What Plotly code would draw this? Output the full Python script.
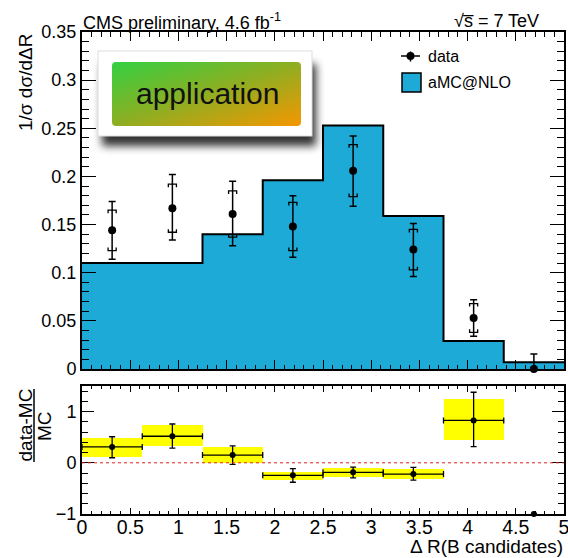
import base64
import plotly.graph_objects as go

# ---- data ---------------------------------------------------------------
bin_edges = [0.0, 0.625, 1.25, 1.875, 2.5, 3.125, 3.75, 4.375, 5.0]
mc_values = [0.110, 0.110, 0.140, 0.196, 0.253, 0.159, 0.029, 0.007]   # aMC@NLO
data_values = [0.144, 0.167, 0.161, 0.148, 0.206, 0.124, 0.053, 0.0]
data_tot_up = [0.030, 0.035, 0.034, 0.032, 0.036, 0.027, 0.019, 0.0156]
data_tot_dn = [0.030, 0.033, 0.033, 0.032, 0.037, 0.028, 0.019, 0.0]
data_stat_up = [0.021, 0.025, 0.024, 0.025, 0.027, 0.021, 0.015, None]
data_stat_dn = [0.021, 0.025, 0.024, 0.025, 0.027, 0.021, 0.015, None]

# (data-MC)/MC panel: uncertainty band and error bars
band_lo = [0.11, 0.32, 0.0, -0.345, -0.28, -0.31, 0.45, None]
band_hi = [0.48, 0.74, 0.306, -0.17, -0.10, -0.117, 1.25, None]
ratio_err_up = [0.20, 0.24, 0.18, 0.13, 0.10, 0.13, 0.55, None]
ratio_err_dn = [0.21, 0.23, 0.18, 0.135, 0.11, 0.12, 0.51, None]

x_ticks = [0, 0.5, 1, 1.5, 2, 2.5, 3, 3.5, 4, 4.5, 5]
x_tick_text = ["0", "0.5", "1", "1.5", "2", "2.5", "3", "3.5", "4", "4.5", "5"]

# ---- derived ------------------------------------------------------------
centers = [(a + b) / 2 for a, b in zip(bin_edges[:-1], bin_edges[1:])]
half_w = [(b - a) / 2 for a, b in zip(bin_edges[:-1], bin_edges[1:])]
ratio = [d / m - 1 for d, m in zip(data_values, mc_values)]

BLUE = "#1eaad7"
FONT = "Liberation Sans, Arial, Helvetica, sans-serif"

# frame geometry in pixels (used for paper-coordinate helpers)
W, H = 568, 558
ML, MR, MT, MB = 82, 4, 32, 44
PW, PH = W - ML - MR, H - MT - MB


def px(xp):
    return (xp - ML) / PW


def py(yp):
    return (H - MB - yp) / PH


fig = go.Figure()

# histogram drawn as a filled step outline
fig.add_trace(go.Scatter(
    x=bin_edges, y=mc_values + [mc_values[-1]],
    mode="lines", line=dict(shape="hv", color="black", width=2),
    fill="tozeroy", fillcolor=BLUE, hoverinfo="skip",
    xaxis="x", yaxis="y", showlegend=False))

# bracket-style caps marking the statistical part of the data errors
bw, bt = 0.042, 0.0032
bx, by = [], []
for c, v, su, sd in zip(centers, data_values, data_stat_up, data_stat_dn):
    if su is None:
        continue
    top, bot = v + su, v - sd
    bx += [c - bw, c - bw, c + bw, c + bw, None, c - bw, c - bw, c + bw, c + bw, None]
    by += [top - bt, top, top, top - bt, None, bot + bt, bot, bot, bot + bt, None]
fig.add_trace(go.Scatter(
    x=bx, y=by, mode="lines", line=dict(color="black", width=1.3),
    xaxis="x", yaxis="y", showlegend=False, hoverinfo="skip"))

# data points with total uncertainty
fig.add_trace(go.Scatter(
    x=centers, y=data_values, mode="markers",
    marker=dict(color="black", size=8),
    error_y=dict(type="data", symmetric=False, array=data_tot_up,
                 arrayminus=data_tot_dn, color="black", thickness=1.5, width=3.5),
    cliponaxis=False, xaxis="x", yaxis="y", showlegend=False))

# ratio panel: uncertainty band
fig.add_trace(go.Bar(
    x=centers,
    base=band_lo,
    y=[None if (h is None or l is None) else h - l for h, l in zip(band_hi, band_lo)],
    width=[2 * w for w in half_w],
    marker=dict(color="#ffff00", line=dict(width=0)),
    xaxis="x2", yaxis="y2", showlegend=False, hoverinfo="skip"))

# ratio points
fig.add_trace(go.Scatter(
    x=centers, y=ratio, mode="markers",
    marker=dict(color="black", size=6),
    error_x=dict(type="data", array=[w if e is not None else None for w, e in zip(half_w, ratio_err_up)],
                 color="black", thickness=1.3, width=3),
    error_y=dict(type="data", symmetric=False, array=ratio_err_up,
                 arrayminus=ratio_err_dn, color="black", thickness=1.3, width=3),
    cliponaxis=False, xaxis="x2", yaxis="y2", showlegend=False))

axis_common = dict(
    showline=True, linecolor="black", linewidth=2, mirror="allticks",
    ticks="inside", tickcolor="black", tickwidth=1.3, showgrid=False,
    zeroline=False, automargin=False, ticklabeloverflow="allow",
    tickfont=dict(family=FONT, size=18, color="black"),
)

fig.update_layout(
    width=W, height=H,
    margin=dict(l=ML, r=MR, t=MT, b=MB, autoexpand=False),
    paper_bgcolor="white", plot_bgcolor="white",
    font=dict(family=FONT, color="black"),
    bargap=0,
    xaxis=dict(axis_common, domain=[0, 1], range=[0, 5], anchor="y",
               tickvals=x_ticks, showticklabels=False, ticklen=9,
               minor=dict(dtick=0.1, ticklen=4.5, ticks="inside",
                          tickcolor="black", tickwidth=1)),
    yaxis=dict(axis_common, domain=[py(369), 1], range=[0, 0.35], anchor="x",
               dtick=0.05, tick0=0, ticklen=14, ticklabelstandoff=0,
               minor=dict(dtick=0.01, ticklen=7, ticks="inside",
                          tickcolor="black", tickwidth=1)),
    xaxis2=dict(axis_common, domain=[0, 1], range=[0, 5], anchor="y2",
                tickvals=x_ticks, ticktext=x_tick_text, ticklen=6,
                ticklabelstandoff=-5,
                tickfont=dict(family=FONT, size=19.5, color="black"),
                minor=dict(dtick=0.1, ticklen=3, ticks="inside",
                           tickcolor="black", tickwidth=1)),
    yaxis2=dict(axis_common, domain=[0, py(386)], range=[-1, 1.5], anchor="x2",
                dtick=1, tick0=0, ticklen=12, ticklabelstandoff=0,
                minor=dict(dtick=0.2, tick0=0, ticklen=6, ticks="inside",
                           tickcolor="black", tickwidth=1)),
)

# zero line of the ratio panel
fig.add_shape(type="line", xref="x2 domain", yref="y2", x0=0, x1=1, y0=0, y1=0,
              line=dict(color="#e02020", width=1, dash="3px,3px"), layer="above")

# legend glyphs
fig.add_shape(type="line", xref="paper", yref="paper", x0=px(401), x1=px(420),
              y0=py(56), y1=py(56), line=dict(color="black", width=1.5))
fig.add_shape(type="line", xref="paper", yref="paper", x0=px(410.5), x1=px(410.5),
              y0=py(51.5), y1=py(61.5), line=dict(color="black", width=1.5))
fig.add_shape(type="circle", xref="paper", yref="paper", x0=px(406.5), x1=px(414.5),
              y0=py(60), y1=py(52), fillcolor="black", line=dict(color="black", width=0))
fig.add_shape(type="rect", xref="paper", yref="paper", x0=px(402), x1=px(421),
              y0=py(92), y1=py(73), fillcolor=BLUE, line=dict(color="black", width=1.5))

# floating "application" badge with drop shadow and gradient
badge_svg = """<svg xmlns="http://www.w3.org/2000/svg" width="240" height="115" viewBox="0 0 240 115">
<defs>
<linearGradient id="g" x1="0" y1="0" x2="1" y2="1">
<stop offset="0" stop-color="#33d042"/>
<stop offset="0.5" stop-color="#8fae22"/>
<stop offset="1" stop-color="#f59600"/>
</linearGradient>
<filter id="b" x="-20%" y="-30%" width="140%" height="170%"><feGaussianBlur stdDeviation="4"/></filter>
</defs>
<rect x="10" y="20" width="214" height="82" fill="#000" opacity="0.8" filter="url(#b)"/>
<rect x="6" y="7" width="214" height="85" fill="#ffffff" stroke="#dddddd" stroke-width="1"/>
<rect x="20" y="18" width="189" height="64" rx="4" fill="url(#g)"/>
</svg>"""
fig.add_layout_image(
    source="data:image/svg+xml;base64," + base64.b64encode(badge_svg.encode()).decode(),
    xref="paper", yref="paper", x=px(92), y=py(44), sizex=240 / PW, sizey=115 / PH,
    xanchor="left", yanchor="top", sizing="stretch", layer="above")

annotations = [
    dict(text="application", x=px(207), y=py(93), xanchor="center", yanchor="middle",
         font=dict(size=30, color="#111111")),
    dict(text="data", x=px(426), y=py(56), xanchor="left", yanchor="middle",
         font=dict(size=16)),
    dict(text="aMC@NLO", x=px(426), y=py(82.5), xanchor="left", yanchor="middle",
         font=dict(size=16)),
    dict(text="CMS preliminary, 4.6 fb<sup>-1</sup>", x=px(81), y=py(21),
         xanchor="left", yanchor="middle", font=dict(size=18)),
    dict(text="\u221as\u0305 = 7 TeV", x=px(541), y=py(21),
         xanchor="right", yanchor="middle", font=dict(size=18)),
    dict(text="1/\u03c3 d\u03c3/d\u0394R", x=px(26), y=py(83), textangle=-90,
         xanchor="center", yanchor="middle", font=dict(size=19)),
    dict(text="data-MC", x=px(25), y=py(425.5), textangle=-90,
         xanchor="center", yanchor="middle", font=dict(size=19)),
    dict(text="MC", x=px(44), y=py(426), textangle=-90,
         xanchor="center", yanchor="middle", font=dict(size=19)),
    dict(text="\u0394 R(B candidates)", x=px(565), y=py(546),
         xanchor="right", yanchor="middle", font=dict(size=19)),
]
for a in annotations:
    a.update(xref="paper", yref="paper", showarrow=False)
    a["font"].update(family=FONT, color=a["font"].get("color", "black"))
fig.update_layout(annotations=annotations)

# fraction bar of the ratio-axis title
fig.add_shape(type="line", xref="paper", yref="paper", x0=px(34), x1=px(34),
              y0=py(389), y1=py(462), line=dict(color="black", width=1.5))

fig.write_html("out.html")
